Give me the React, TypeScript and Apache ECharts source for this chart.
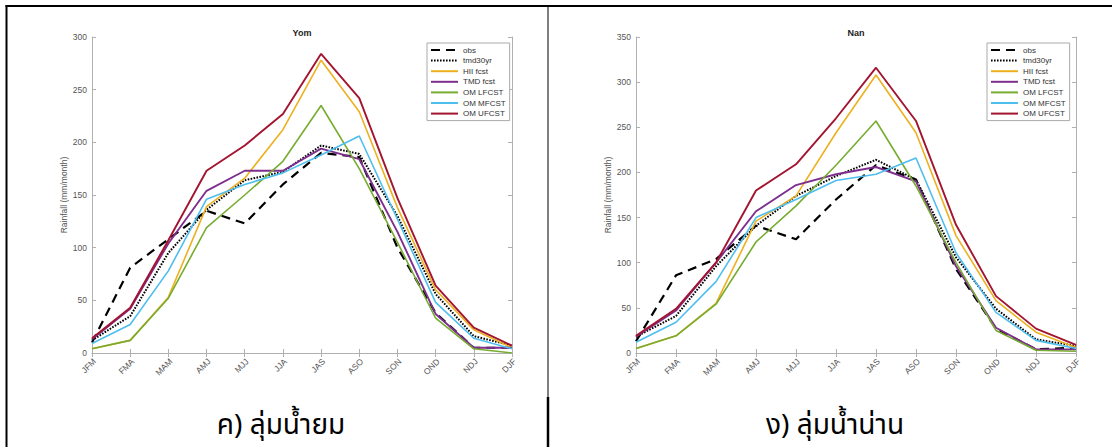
import React, { useEffect, useRef } from 'react';
import * as echarts from 'echarts';

const categories = ['JFM', 'FMA', 'MAM', 'AMJ', 'MJJ', 'JJA', 'JAS', 'ASO', 'SON', 'OND', 'NDJ', 'DJF'];
const seriesNames = ['obs', 'tmd30yr', 'HII fcst', 'TMD fcst', 'OM LFCST', 'OM MFCST', 'OM UFCST'];

// Yom basin
const obsYom = [10, 81, 108, 135, 123, 160, 190, 186, 100, 38, 5, 5];
const tmd30Yom = [12, 35, 95, 136, 164, 172, 197, 189, 130, 56, 16, 7];
const hiiYom = [4, 12, 53, 139, 166, 212, 278, 229, 138, 60, 22, 5];
const tmdFcstYom = [13, 42, 104, 154, 173, 173, 194, 184, 115, 37, 5, 5];
const omLYom = [4, 12, 52, 119, 150, 182, 235, 175, 105, 33, 4, 0];
const omMYom = [9, 27, 78, 146, 160, 171, 188, 206, 127, 48, 14, 4];
const omUYom = [14, 43, 107, 173, 197, 227, 284, 242, 147, 64, 24, 7];

// Nan basin
const obsNan = [13, 86, 104, 141, 126, 170, 208, 192, 93, 27, 4, 6];
const tmd30Nan = [18, 41, 96, 141, 174, 196, 214, 192, 106, 49, 15, 8];
const hiiNan = [5, 19, 55, 146, 174, 244, 308, 244, 130, 58, 23, 6];
const tmdFcstNan = [18, 47, 100, 157, 186, 198, 206, 190, 96, 28, 4, 4];
const omLNan = [5, 19, 54, 123, 163, 208, 257, 185, 100, 25, 3, 2];
const omMNan = [12, 34, 79, 150, 170, 191, 198, 216, 111, 45, 14, 5];
const omUNan = [19, 49, 100, 180, 209, 260, 316, 257, 142, 63, 27, 9];

const yomData = [obsYom, tmd30Yom, hiiYom, tmdFcstYom, omLYom, omMYom, omUYom];
const nanData = [obsNan, tmd30Nan, hiiNan, tmdFcstNan, omLNan, omMNan, omUNan];

const titles = ['Yom', 'Nan'];
const captions = ['ค) ลุ่มน้ำยม', 'ง) ลุ่มน้ำน่าน'];
const yMax = [300, 350];
const yInterval = 50;
const yName = 'Rainfall (mm/month)';

const colors = ['#000000', '#000000', '#EDB120', '#7E2F8E', '#77AC30', '#4DBEEE', '#A2142F'];
const lineTypes: any[] = [[9, 6], [1.6, 1.4], 'solid', 'solid', 'solid', 'solid', 'solid'];
const lineWidths = [2.2, 2, 1.6, 1.9, 1.6, 1.6, 1.9];

const FONT = 'Liberation Sans, Arial, Helvetica, sans-serif';
const THAI_FONT = 'Noto Sans Thai, Noto Sans Thai Looped, Loma, Garuda, Norasi, Sarabun, Tlwg Typo, sans-serif';
const AXIS_COLOR = '#b0b0b0';
const LABEL_COLOR = '#555555';

const grids = [
  { left: 92, top: 37, width: 420, height: 316 },
  { left: 636, top: 37, width: 440, height: 316 },
];

export default function App() {
  const ref = useRef<HTMLDivElement>(null);
  useEffect(() => {
    if (!ref.current) return;
    const chart = echarts.init(ref.current, undefined, { renderer: 'svg' });

    const xAxis: any[] = [];
    const yAxis: any[] = [];
    const series: any[] = [];
    const bottomIdx: number[] = [];
    const leftIdx: number[] = [];
    [0, 1].forEach((g) => {
      const xBase = {
        gridIndex: g,
        type: 'category',
        data: categories,
        boundaryGap: false,
        axisLine: { show: true, lineStyle: { color: AXIS_COLOR, width: 1 } },
        axisTick: { show: true, inside: true, length: 4, lineStyle: { color: AXIS_COLOR } },
        splitLine: { show: false },
        axisLabel: { show: false },
      };
      bottomIdx.push(xAxis.length);
      xAxis.push({ ...xBase, position: 'bottom' });
      xAxis.push({ ...xBase, position: 'top' });
      const yBase = {
        gridIndex: g,
        type: 'value',
        min: 0,
        max: yMax[g],
        interval: yInterval,
        axisLine: { show: true, lineStyle: { color: AXIS_COLOR, width: 1 } },
        axisTick: { show: true, inside: true, length: 4, lineStyle: { color: AXIS_COLOR } },
        splitLine: { show: false },
      };
      leftIdx.push(yAxis.length);
      yAxis.push({
        ...yBase,
        position: 'left',
        name: yName,
        nameLocation: 'middle',
        nameGap: 24,
        nameTextStyle: { fontSize: 8.5, color: LABEL_COLOR, fontFamily: FONT },
        axisLabel: { show: true, fontSize: 8.5, color: LABEL_COLOR, margin: 5, fontFamily: FONT },
      });
      yAxis.push({ ...yBase, position: 'right', axisLabel: { show: false } });
      const data = g === 0 ? yomData : nanData;
      seriesNames.forEach((name, i) => {
        series.push({
          name,
          type: 'line',
          xAxisIndex: bottomIdx[g],
          yAxisIndex: leftIdx[g],
          data: data[i],
          symbol: 'none',
          showSymbol: false,
          color: colors[i],
          lineStyle: { color: colors[i], width: lineWidths[i], type: lineTypes[i] },
          z: 2 + i,
        });
      });
    });

    const legendBase = {
      data: seriesNames,
      top: 43,
      orient: 'vertical',
      itemWidth: 27,
      itemHeight: 8,
      itemGap: 2.6,
      padding: [3, 4, 3, 3],
      backgroundColor: '#ffffff',
      borderColor: '#aaaaaa',
      borderWidth: 1,
      borderRadius: 0,
      selectedMode: false,
      itemStyle: { opacity: 0 },
      textStyle: { fontSize: 8, color: '#333333', fontFamily: FONT },
    };

    const baseGraphic: any[] = [
      { type: 'line', shape: { x1: 5.5, y1: 6, x2: 1112, y2: 6 }, style: { stroke: '#000', lineWidth: 2 } },
      { type: 'line', shape: { x1: 6.5, y1: 5, x2: 6.5, y2: 447 }, style: { stroke: '#000', lineWidth: 2 } },
      { type: 'line', shape: { x1: 548, y1: 6, x2: 548, y2: 397 }, style: { stroke: '#000', lineWidth: 1 } },
      { type: 'line', shape: { x1: 548, y1: 397, x2: 548, y2: 447 }, style: { stroke: '#000', lineWidth: 2.5 } },
      {
        type: 'text',
        x: 281,
        y: 425,
        style: { text: captions[0], fill: '#000', fontSize: 28, fontFamily: THAI_FONT, align: 'center', verticalAlign: 'middle' },
      },
      {
        type: 'text',
        x: 835,
        y: 425,
        style: { text: captions[1], fill: '#000', fontSize: 28, fontFamily: THAI_FONT, align: 'center', verticalAlign: 'middle' },
      },
    ];

    chart.setOption({
      animation: false,
      backgroundColor: '#ffffff',
      textStyle: { fontFamily: FONT },
      grid: grids.map((g) => ({ ...g, containLabel: false })),
      title: titles.map((t, i) => ({
        text: t,
        left: grids[i].left + grids[i].width / 2,
        top: 28,
        textAlign: 'center',
        padding: 0,
        textStyle: { fontSize: 9, fontWeight: 'bold', color: '#222222', fontFamily: FONT },
      })),
      legend: [
        { ...legendBase, left: 427 },
        { ...legendBase, left: 987 },
      ],
      xAxis,
      yAxis,
      series,
      graphic: baseGraphic,
    });

    // Rotated category tick labels, positioned through the axes' own scales
    const labelGraphic: any[] = [];
    [0, 1].forEach((g) => {
      const y0 = chart.convertToPixel({ yAxisIndex: leftIdx[g] } as any, 0) as number;
      categories.forEach((c) => {
        const px = chart.convertToPixel({ xAxisIndex: bottomIdx[g] } as any, c) as number;
        labelGraphic.push({
          type: 'text',
          x: px + 2.5,
          y: y0 + 7,
          rotation: Math.PI / 4,
          style: {
            text: c,
            fill: LABEL_COLOR,
            fontSize: 8.5,
            fontFamily: FONT,
            align: 'right',
            verticalAlign: 'middle',
          },
        });
      });
    });
    chart.setOption({ graphic: [...baseGraphic, ...labelGraphic] });

    return () => chart.dispose();
  }, []);
  return (
    <div
      ref={ref}
      style={{ position: 'absolute', left: 0, top: 0, width: 1112, height: 447, background: '#fff' }}
    />
  );
}
